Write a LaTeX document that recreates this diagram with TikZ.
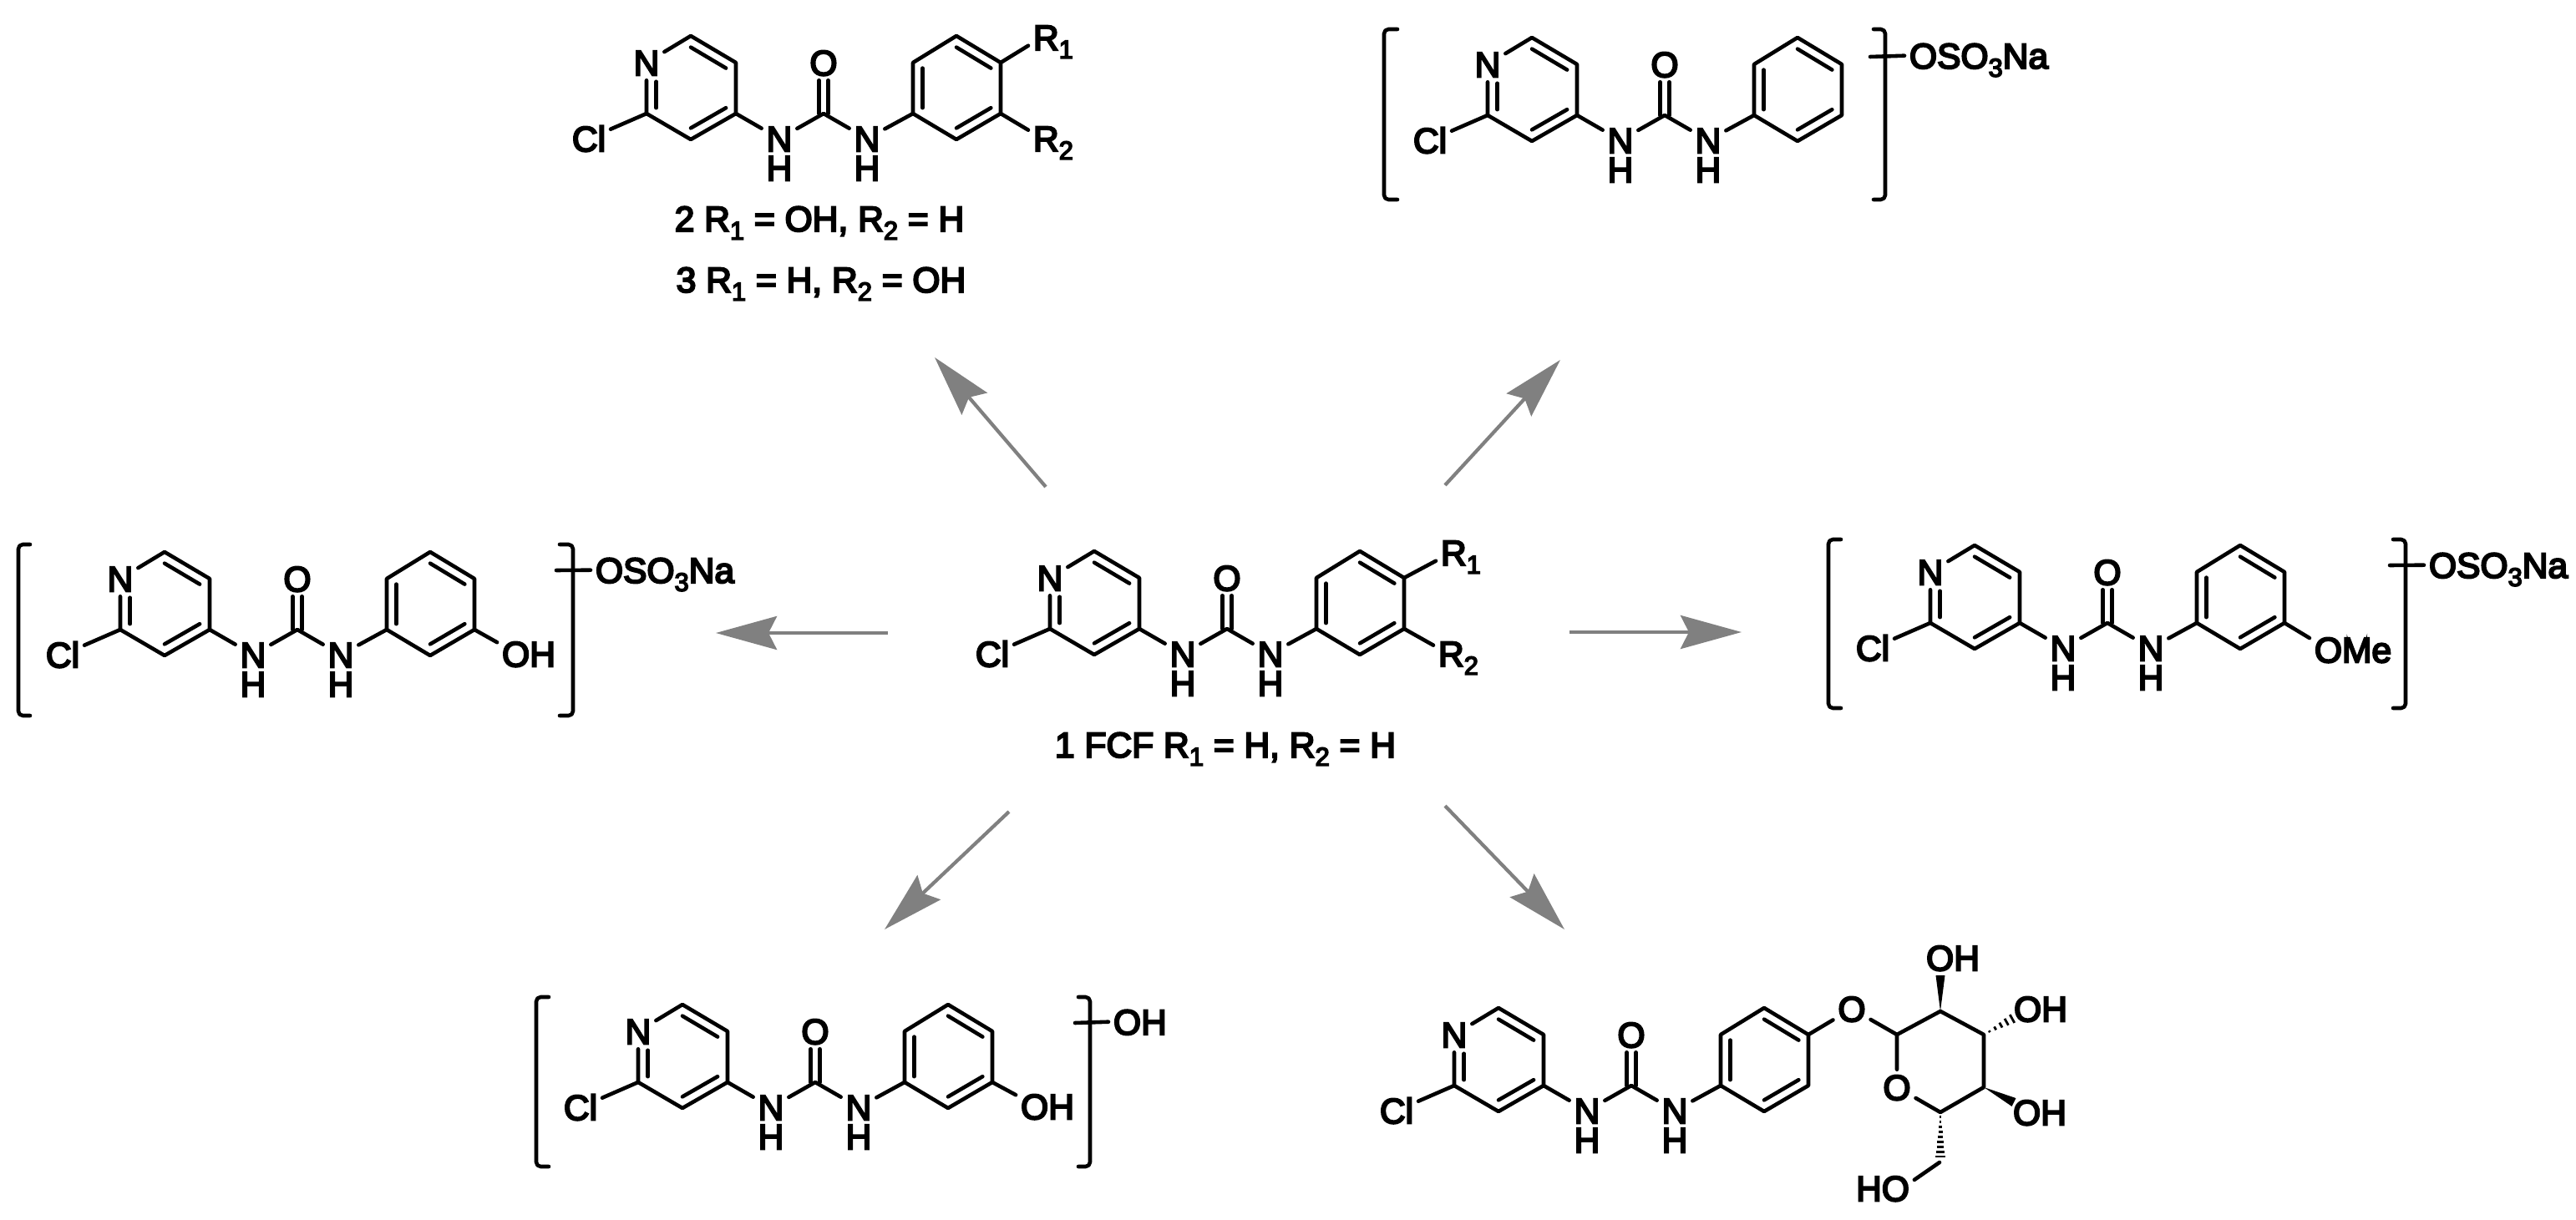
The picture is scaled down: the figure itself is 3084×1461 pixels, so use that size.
\documentclass[tikz,border=0pt]{standalone}
\usepackage{fontspec}
\setmainfont{Liberation Sans}
\newfontfamily\chemfont{Liberation Sans}[FakeBold=5]
\usetikzlibrary{arrows.meta,calc}
\definecolor{arrowgray}{HTML}{808080}
\newcommand\chemsize{\chemfont\fontsize{12.1}{14}\selectfont}
\newcommand\subs[1]{\raisebox{-2.8pt}{\fontsize{8.8}{9}\selectfont #1}}
\newcommand\hashbond[3]{%
  \foreach \k in {1,...,#3}{%
    \pgfmathsetmacro\hf{\k/#3}%
    \pgfmathsetmacro\hw{\hf*1.6}%
    \coordinate (hp) at ($(#1)!\hf!(#2)$);
    \draw[line width=.8pt,black] ($(hp)!\hw pt!90:(#1)$) -- ($(hp)!\hw pt!-90:(#1)$);
  }}
\tikzset{
  atom/.style={font=\chemsize,inner sep=1.5pt,text height=8.7pt,text depth=0pt},
  cptn/.style={font=\chemsize,inner sep=0pt,anchor=base},
  bond/.style={line width=1.3pt,line cap=round,line join=round,black},
  reaction/.style={line width=1.2pt,draw=arrowgray,fill=arrowgray,
    -{Stealth[length=7.3mm,width=4mm,inset=1mm,arrowgray]}},
  core/.pic={
    \coordinate (c) at (0,62);
    \coordinate (p1) at (0,0);
    \coordinate (p2) at (54,32);
    \coordinate (p3) at (54,93);
    \coordinate (p4) at (0,124);
    \coordinate (p5) at (-53,93);
    \node[atom] (N) at (-53,32) {N};
    \node[atom] (Cl) at (-122,123) {Cl};
    \node[atom] (N1) at (106,123) {N};
    \node[atom] (H1) at (106,158) {H};
    \coordinate (C) at (159,93);
    \node[atom] (O) at (159,32) {O};
    \node[atom] (N2) at (211,123) {N};
    \node[atom] (H2) at (211,158) {H};
    \coordinate (d) at (318,62);
    \coordinate (r1) at (266,93);
    \coordinate (r2) at (266,32);
    \coordinate (r3) at (318,0);
    \coordinate (r4) at (371,32);
    \coordinate (r5) at (371,93);
    \coordinate (r6) at (318,124);
    \draw[bond] (N) -- (p1) -- (p2) -- (p3) -- (p4) -- (p5) -- (N);
    \draw[bond] (p5) -- (Cl);
    \draw[bond] (p3) -- (N1);
    \draw[bond] (N1) -- (C) -- (N2);
    \draw[bond] (N2) -- (r1);
    \draw[bond] (r1) -- (r2) -- (r3) -- (r4) -- (r5) -- (r6) -- cycle;
    \draw[bond] ([xshift=-.055cm]C) -- ([xshift=-.055cm]C|-O.south);
    \draw[bond] ([xshift=.055cm]C) -- ([xshift=.055cm]C|-O.south);
    \draw[bond] ($(p1)!.22!(c)$) -- ($(p2)!.22!(c)$);
    \draw[bond] ($(p3)!.22!(c)$) -- ($(p4)!.22!(c)$);
    \draw[bond,shorten <=4.6pt] ($(N)!.22!(c)$) -- ($(p5)!.22!(c)$);
    \draw[bond] ($(r1)!.22!(d)$) -- ($(r2)!.22!(d)$);
    \draw[bond] ($(r3)!.22!(d)$) -- ($(r4)!.22!(d)$);
    \draw[bond] ($(r5)!.22!(d)$) -- ($(r6)!.22!(d)$);
  }
}
\begin{document}
\begin{tikzpicture}[x=0.01cm,y=-0.01cm]
\useasboundingbox (0,0) rectangle (3084,1461);
% molecules
\pic (mc) at (1310,660) {core};
\pic (mt) at (827,43) {core};
\pic (mu) at (1834,45) {core};
\pic (ml) at (197,661) {core};
\pic (mr) at (2364,653) {core};
\pic (mb) at (817,1203) {core};
\pic (ms) at (1794,1207) {core};
% centre substituents and caption
\node[atom,anchor=base west] (cR1) at (1719,677) {R\subs{1}};
\node[atom,anchor=base west] (cR2) at (1716,798) {R\subs{2}};
\draw[bond] (mcr4) -- ([yshift=-.1cm]cR1.west);
\draw[bond] (mcr5) -- ([yshift=.1cm]cR2.west);
\node[cptn] (cap1) at (1467,907) {1 FCF R\subs{1} = H, R\subs{2} = H};
% top left
\node[atom,anchor=base west] (tR1) at (1231,60) {R\subs{1}};
\node[atom,anchor=base west] (tR2) at (1231,181) {R\subs{2}};
\draw[bond] (mtr4) -- ([yshift=-.1cm]tR1.west);
\draw[bond] (mtr5) -- ([yshift=.1cm]tR2.west);
\node[cptn] (cap2) at (981,277) {2 R\subs{1} = OH, R\subs{2} = H};
\node[cptn] (cap3) at (983,350) {3 R\subs{1} = H, R\subs{2} = OH};
% top right brackets
\draw[bond,rounded corners=1.5pt] (1673,35) -- (1657,35) -- (1657,239) -- (1673,239);
\draw[bond,rounded corners=1.5pt] (2243,35) -- (2257,35) -- (2257,239) -- (2243,239);
\node[atom,anchor=base west] (uS) at (2280,82) {OSO\subs{3}Na};
\coordinate (uT) at (2239,68);
\draw[bond] (uT) -- (uS.west);
% left
\node[atom] (lOH) at (633,783) {OH};
\draw[bond] (mlr5) -- (lOH.160);
\draw[bond,rounded corners=1.5pt] (36,652) -- (22,652) -- (22,857) -- (36,857);
\draw[bond,rounded corners=1.5pt] (670,652) -- (686,652) -- (686,857) -- (670,857);
\node[atom,anchor=base west] (lS) at (707,698) {OSO\subs{3}Na};
\coordinate (lT) at (666,683);
\draw[bond] (lT) -- (lS.west);
% right
\node[atom] (rOMe) at (2817,778) {OMe};
\draw[bond] (mrr5) -- (rOMe.165);
\draw[bond,rounded corners=1.5pt] (2204,646) -- (2189,646) -- (2189,848) -- (2204,848);
\draw[bond,rounded corners=1.5pt] (2865,646) -- (2880,646) -- (2880,848) -- (2865,848);
\node[atom,anchor=base west] (rS) at (2902,692) {OSO\subs{3}Na};
\coordinate (rT) at (2861,677);
\draw[bond] (rT) -- (rS.west);
% bottom left
\node[atom] (bOH) at (1254,1325) {OH};
\draw[bond] (mbr5) -- (bOH.160);
\draw[bond,rounded corners=1.5pt] (657,1194) -- (642,1194) -- (642,1397) -- (657,1397);
\draw[bond,rounded corners=1.5pt] (1291,1194) -- (1305,1194) -- (1305,1397) -- (1291,1397);
\node[atom,anchor=base west] (bS) at (1327,1239) {OH};
\coordinate (bT) at (1287,1225);
\draw[bond] (bT) -- (bS.west);
% sugar
\node[atom] (sO) at (2217,1208) {O};
\coordinate (s1) at (2271,1239);
\coordinate (s2) at (2323,1211);
\coordinate (s3) at (2375,1239);
\coordinate (s4) at (2375,1302);
\coordinate (s5) at (2323,1332);
\node[atom] (sOr) at (2271,1302) {O};
\coordinate (sC) at (2322,1392);
\node[atom] (sOH1) at (2338,1147) {OH};
\node[atom] (sOH2) at (2443,1208) {OH};
\node[atom] (sOH3) at (2442,1332) {OH};
\node[atom] (sHO) at (2254,1423) {HO};
\coordinate (w1) at (2323,1168);
\coordinate (w3) at (2411,1320);
\coordinate (h2) at (2409,1220);
\coordinate (h5) at (2323,1385);
\draw[bond] (msr4) -- (sO);
\draw[bond] (sO) -- (s1);
\draw[bond] (sOr) -- (s1) -- (s2) -- (s3) -- (s4) -- (s5) -- (sOr);
\draw[bond] (sC) -- (sHO.15);
\fill[black] (s2) -- ($(w1)!.055cm!90:(s2)$) -- ($(w1)!.055cm!-90:(s2)$) -- cycle;
\fill[black] (s4) -- ($(w3)!.055cm!90:(s4)$) -- ($(w3)!.055cm!-90:(s4)$) -- cycle;
\hashbond{s3}{h2}{5}
\hashbond{s5}{h5}{9}
% arrows
\coordinate (a1s) at (1252,583); \coordinate (a1e) at (1119,428);
\coordinate (a2s) at (1730,581); \coordinate (a2e) at (1868,431);
\coordinate (a3s) at (1063,758); \coordinate (a3e) at (857,758);
\coordinate (a4s) at (1879,757); \coordinate (a4e) at (2085,757);
\coordinate (a5s) at (1208,972); \coordinate (a5e) at (1059,1113);
\coordinate (a6s) at (1730,965); \coordinate (a6e) at (1873,1113);
\foreach \a in {1,...,6}{\draw[reaction] (a\a s) -- (a\a e);}
\end{tikzpicture}
\end{document}
